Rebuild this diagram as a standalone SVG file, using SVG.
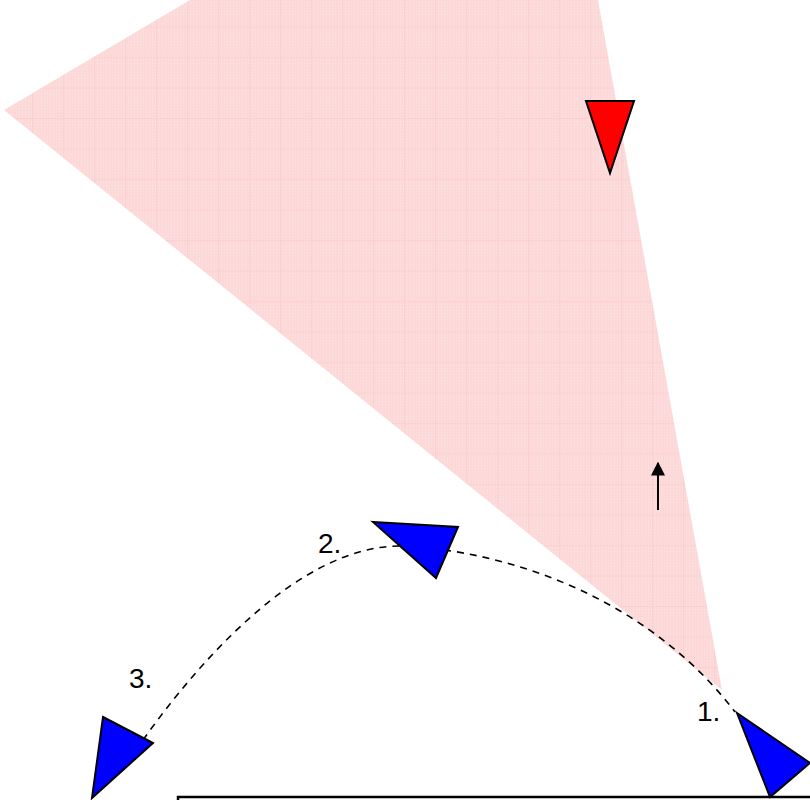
<svg xmlns="http://www.w3.org/2000/svg" width="810" height="800" viewBox="0 0 810 800">
<style>
.tri{stroke:#000;stroke-width:2;stroke-linejoin:miter}
.blue{fill:#0000ff}
.red{fill:#ff0000}
.lbl{font-family:"Liberation Sans",Arial,sans-serif;font-size:28px;fill:#000}
.dash{fill:none;stroke:#000;stroke-width:1.6;stroke-dasharray:7,6}
</style>
<defs>
<pattern id="fine" x="0" y="0" width="3" height="3" patternUnits="userSpaceOnUse">
<rect width="3" height="3" fill="#fdd8d8"/>
<rect width="1" height="1" fill="#fce6e6"/>
</pattern>
<pattern id="grid" x="1" y="-4" width="31" height="30.5" patternUnits="userSpaceOnUse">
<rect width="31" height="30.5" fill="url(#fine)"/>
<path d="M0 0H31M0 0V30.5" stroke="#fbc4c4" stroke-width="1" fill="none"/>
</pattern>
<marker id="ah" viewBox="0 0 10 10" refX="9" refY="5" markerWidth="14" markerHeight="14" markerUnits="userSpaceOnUse" orient="auto">
<path d="M0 0L10 5L0 10Z" fill="#000"/>
</marker>
</defs>
<g id="fan">
<polygon points="4,110 190,0 598,0 722,690" fill="url(#grid)"/>
</g>
<g id="base">
<rect x="178" y="797" width="700" height="60" fill="none" stroke="#000" stroke-width="2.5"/>
</g>
<g id="connectors">
<path class="dash" d="M143,740 C200,660 300,546 400,546 C510,550 650,600 735,712"/>
<line x1="658" y1="510" x2="658" y2="463" stroke="#000" stroke-width="2" marker-end="url(#ah)"/>
</g>
<g id="enemy">
<polygon class="tri red" points="586,101 634,101 610,173"/>
</g>
<g id="pos1">
<polygon class="tri blue" points="737,713 810,763 770,797"/>
<text class="lbl" x="697" y="721">1.</text>
</g>
<g id="pos2">
<polygon class="tri blue" points="373,522 458,527 436,578"/>
<text class="lbl" x="318" y="553">2.</text>
</g>
<g id="pos3">
<polygon class="tri blue" points="103,717 153,743 92,798"/>
<text class="lbl" x="129" y="688">3.</text>
</g>
</svg>
